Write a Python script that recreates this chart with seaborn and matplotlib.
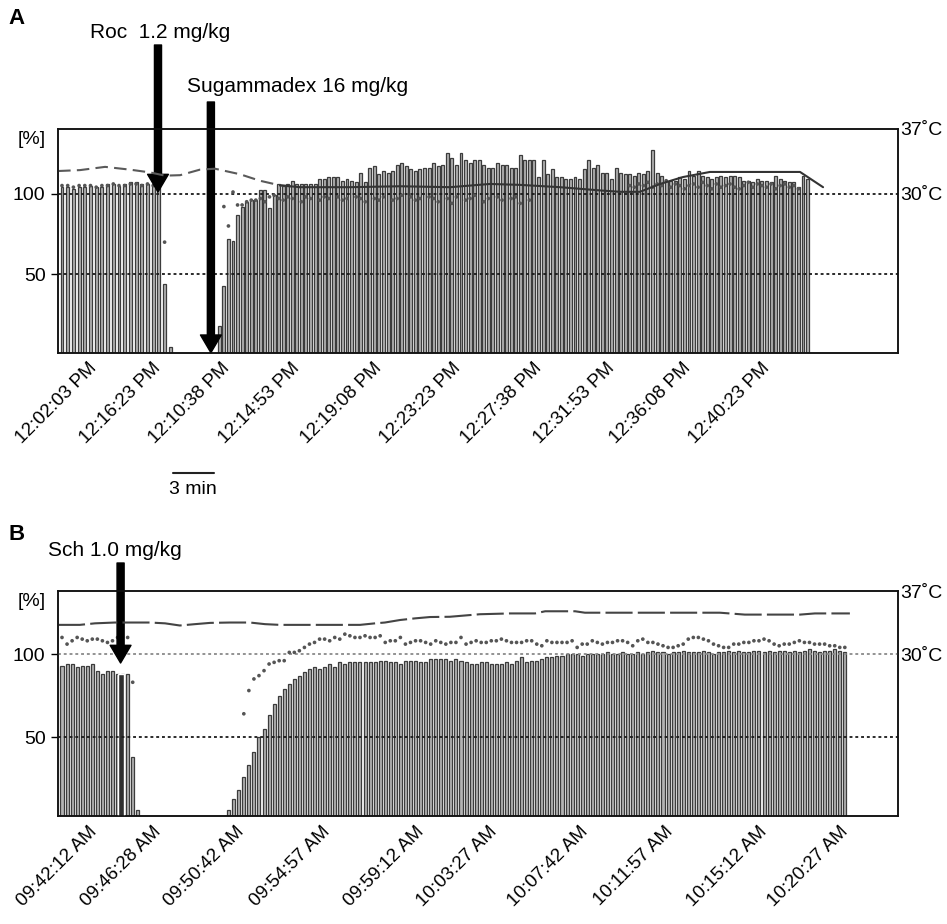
import numpy as np
import pandas as pd
import matplotlib
matplotlib.use("Agg")
import matplotlib.pyplot as plt
from matplotlib.lines import Line2D
import seaborn as sns

sns.set_theme(style="white")
plt.rcParams["font.family"] = ["Liberation Sans", "DejaVu Sans"]
plt.rcParams["text.color"] = "black"
plt.rcParams["axes.labelcolor"] = "black"
plt.rcParams["xtick.color"] = "black"
plt.rcParams["ytick.color"] = "black"
NARROW = ["Liberation Sans Narrow", "Liberation Sans", "DejaVu Sans"]
nan = np.nan

# ---------------- Panel A data (rocuronium / sugammadex) ----------------
A_pre_interval_s = 25
A_rec_start_s = 690
A_rec_interval_s = 20
tofA_pre = [104, 104, 103, 104, 104, 105, 104, 104, 106, 106, 105, 106, 107, 107,
            106, 106, 106, 105, 44, 5]
tofA_rec = [18, 43, 72, 71, 87, 92,
            95, 96, 96, 102, 102, 91, 99, 106, 105, 106,
            108, 106, 106, 106, 106, 106, 109, 109, 110, 110,
            110, 108, 109, 108, 107, 113, 107, 116, 117, 112,
            114, 113, 114, 118, 119, 117, 115, 114, 115, 116,
            116, 119, 117, 118, 125, 122, 118, 125, 121, 119, 121,
            121, 118, 116, 116, 119, 118, 118, 116, 116, 124,
            121, 121, 121, 110, 121, 112, 115, 110, 110, 109,
            109, 110, 109, 115, 121, 116, 118, 113, 113, 109,
            116, 113, 112, 112, 111,
            113, 112, 114, 127, 113, 111, 108, 108, 108, 110,
            109, 114, 111, 114, 111, 110, 109, 110, 111, 110,
            111, 111, 110, 108, 108, 107, 109, 108, 108, 107,
            111, 109, 108, 107, 107, 104, 111, 109]
ratioA_pre = [105, 105, 104, 105, 105, 105, 104, 105, 105, 106, 105, 105, 106, 106,
              105, 106, 105, 105, 70, nan]
ratioA_rec = [nan, 92, 80, 101, 93, 93, 95, 96, 96, 97,
              95, 98, 99, 97, 96, 98, 97, nan, 95, 98,
              97, nan, 96, 98, 97, nan, 98, 96, 97, nan,
              98, 97, 95, nan, 97, 96, 98, nan, 96, 97,
              99, nan, 98, 96, 97, nan, 98, 97, 95, nan,
              97, 94, 98, nan, 96, 97, 99, nan, 95, 97,
              nan, 98, 96, nan, 97, 98, 94, nan, 96, nan,
              nan, nan, nan, nan, nan, nan, nan, nan, nan, nan,
              nan, nan, nan, nan, nan, nan, nan, nan, nan, nan,
              105, 104, 106, 105, 107, 104, 106, 105, 108, 104,
              106, 105, 103, 105, 106, 104, 107, 105, 103, 106,
              104, 105, 106, 104, 103, 105, 107, 104, 106, 105,
              104, 106, 103, 105, 106, 104, 105, 103, nan, nan]
tempA_t = [-17, 79, 189, 298, 386, 452, 518, 605, 671, 781, 868, 956, 1044, 1263,
           1482, 1702, 1877, 2009, 2184, 2360, 2447, 2535, 2623, 2724, 2842, 3061,
           3237, 3338]
tempA_c = [32.45, 32.55, 32.9, 32.6, 32.3, 31.95, 32.0, 32.6, 32.7, 32.1, 31.4, 30.9,
           30.7, 30.7, 30.8, 30.7, 31.05, 30.95, 30.7, 30.35, 30.2, 30.2, 31.05, 31.8,
           32.35, 32.35, 32.35, 30.7]
ticksA_t = [167, 447, 750, 1057, 1417, 1763, 2118, 2439, 2772, 3118]
ticksA_lab = ["12:02:03 PM", "12:16:23 PM", "12:10:38 PM", "12:14:53 PM", "12:19:08 PM",
              "12:23:23 PM", "12:27:38 PM", "12:31:53 PM", "12:36:08 PM", "12:40:23 PM"]
roc_t, roc_tip = 421, 101
sug_t = 653

# ---------------- Panel B data (succinylcholine) ----------------
B_interval_s = 15
tofB = ([93, 94, 94, 92, 93, 93, 94, 90, 88, 90, 90, 88, 88, 88, 38, 6]
        + [0] * 17
        + [6, 12.5, 18, 26, 33, 41, 50, 55, 63, 70, 75, 79, 82, 85, 87, 89, 91, 92,
           91, 92, 94, 92, 95, 94, 95, 95, 95, 95, 95, 95, 96, 96, 95, 95, 94, 96,
           96, 96, 95, 95, 97, 97]
        + [97, 97, 96, 97, 96, 95, 94, 94, 95, 95, 94, 94, 94, 95, 94, 96, 98, 95, 96]
        + [96, 97, 98, 98, 99, 99, 100, 100, 100, 99, 100, 100]
        + [100, 100, 101, 100, 100, 101, 100, 100, 101, 100, 101, 102, 101, 101, 100,
           101, 101, 102, 101, 101]
        + [101, 102, 101, 100, 101, 101, 102, 101, 102, 101, 101, 102, 102, 101, 102,
           101, 102, 102, 101, 102, 101, 102, 103, 102, 101, 102, 102, 103, 102, 101])
ratioB = ([110, 106, 108, 110, 109, 108, 109, 109, 108, 107, 108, 110, nan, 110, 83, nan]
          + [nan] * 20
          + [64, 78, 85, 87, 90, 94, 95, 96, 96, 101, 101, 102, 104, 106, 107, 109, 109,
             108, 110, 109, 112, 111, 110, 110, 111, 110, 110, 111, 107, 108, 108, 110,
             106, 107, 108, 108, 107, 106, 108, 107, 106, 107, 107, 110, 106, 107, 108]
          + [107, 107, 108, 108, 109, 108, 107, 107,
             107, 108, 108, 106, 105, 108, 107, 107, 107, 107,
             108, 104, 106, 106, 108, 107, 106, 107, 107, 108,
             108, 107, 105, 108, 109, 107, 107, 106, 105, 104,
             104, 105, 106, 109, 110, 110, 109, 108, 106, 105,
             104, 104, 106, 106, 107, 107, 108, 108, 109, 108,
             106, 105, 106, 106, 107, 108, 107, 107, 106, 106,
             106, 105, 105, 104, 104])
tempB_t = [-12, 53, 98, 157, 261, 306, 350, 395, 440, 499, 558, 603, 647, 707, 766, 885,
           930, 959, 1004, 1048, 1093, 1152, 1241, 1331, 1405, 1435, 1524, 1553, 1954,
           2028, 2192, 2236, 2340]
tempB_c = [33.24, 33.24, 33.41, 33.5, 33.5, 33.41, 33.17, 33.32, 33.46, 33.5, 33.5,
           33.32, 33.24, 33.24, 33.24, 33.24, 33.41, 33.5, 33.78, 33.96, 34.11, 34.14,
           34.42, 34.51, 34.51, 34.75, 34.75, 34.59, 34.59, 34.38, 34.38, 34.51, 34.51]
ticksB_t = [113, 303, 552, 805, 1084, 1301, 1571, 1824, 2103, 2346]
ticksB_lab = ["09:42:12 AM", "09:46:28 AM", "09:50:42 AM", "09:54:57 AM", "09:59:12 AM",
              "10:03:27 AM", "10:07:42 AM", "10:11:57 AM", "10:15:12 AM", "10:20:27 AM"]
sch_t, sch_tip = 174, 94.6
sch_bar_h = 88

# ---------------- derived sample times ----------------
tA_pre = np.arange(len(tofA_pre)) * A_pre_interval_s
tA_rec = A_rec_start_s + np.arange(len(tofA_rec)) * A_rec_interval_s
tA = np.concatenate([tA_pre, tA_rec])
vA = np.array(tofA_pre + tofA_rec, dtype=float)
rA = np.array(ratioA_pre + ratioA_rec, dtype=float)
tB = np.arange(len(tofB)) * B_interval_s
vB = np.array(tofB, dtype=float)
rB = np.array(ratioB, dtype=float)

# ---------------- figure ----------------
W, H = 947, 924
fig = plt.figure(figsize=(W / 100, H / 100), dpi=100)


def fx(px):
    return px / W


def fy(py):
    return 1 - py / H


axA = fig.add_axes([fx(58), fy(352.7), (897.7 - 58) / W, (352.7 - 129) / H])
axB = fig.add_axes([fx(58), fy(816), (897.7 - 58) / W, (816 - 591) / H])


def draw_panel(ax, t, v, r, bar_width, t_temp, c_temp, ylim, xlim, ticks_t, ticks_lab,
               c100, temp_dashes, split_t=None):
    df = pd.DataFrame({"t": t, "v": v})
    df = df[df["v"] > 0]
    sns.barplot(data=df, x="t", y="v", native_scale=True, width=bar_width,
                color="#b4b4b4", edgecolor="#3c3c3c", linewidth=0.9, saturation=1,
                errorbar=None, ax=ax, zorder=2)
    dd = pd.DataFrame({"t": t, "r": r}).dropna()
    sns.scatterplot(data=dd, x="t", y="r", ax=ax, s=7, color="#555555",
                    edgecolor="none", zorder=5)
    ax.axhline(100, color=c100, lw=1.3, ls=(0, (1.6, 1.6)), zorder=4)
    ax.axhline(50, color="#1a1a1a", lw=1.3, ls=(0, (1.6, 1.6)), zorder=4)

    axT = ax.twinx()
    ytop = ylim[1]
    t_bottom = 30 - (100 - ylim[0]) * 7.0 / (ytop - 100)
    axT.set_ylim(t_bottom, 37)
    tt = np.array(t_temp, dtype=float)
    cc = np.array(c_temp, dtype=float)
    if split_t is None:
        sns.lineplot(x=tt, y=cc, ax=axT, color="#444444", lw=1.5, sort=False,
                     estimator=None)
        axT.lines[-1].set_dashes(temp_dashes)
    else:
        m1 = tt <= split_t[1]
        m2 = tt >= split_t[0]
        sns.lineplot(x=tt[m1], y=cc[m1], ax=axT, color="#5a5a5a", lw=1.5, sort=False,
                     estimator=None)
        axT.lines[-1].set_dashes(temp_dashes)
        sns.lineplot(x=tt[m2], y=cc[m2], ax=axT, color="#333333", lw=1.5, sort=False,
                     estimator=None)
    axT.set_yticks([30, 37])
    axT.set_yticklabels(["30˚C", "37˚C"])
    axT.tick_params(axis="y", right=False, length=0, pad=2, labelsize=14,
                    labelcolor="black")
    axT.set_ylabel("")
    axT.set_xlabel("")

    ax.set_ylim(*ylim)
    ax.set_xlim(*xlim)
    ax.set_yticks([50, 100])
    ax.set_yticklabels(["50", "100"])
    ax.tick_params(axis="y", left=True, length=5, width=1, pad=4, labelsize=14,
                   color="black", labelcolor="black")
    ax.set_xticks(ticks_t)
    ax.set_xticklabels(ticks_lab, rotation=45, ha="right", fontsize=13.5)
    ax.tick_params(axis="x", bottom=False, length=0, pad=5, labelcolor="black")
    ax.set_xlabel("")
    ax.set_ylabel("")
    ax.grid(False)
    axT.grid(False)
    for a in (ax, axT):
        for s in a.spines.values():
            s.set_color("#111111")
            s.set_linewidth(1.1)
    return axT


sA = 0.228   # pixels per second, panel A
sB = 0.3367  # pixels per second, panel B
xlimA = ((58 - 62) / sA, (897.7 - 62) / sA)
xlimB = ((58 - 62) / sB, (897.7 - 62) / sB)

axTA = draw_panel(axA, tA, vA, rA, 0.65, tempA_t, tempA_c, (1.6, 140), xlimA,
                  ticksA_t, ticksA_lab, "#1a1a1a", (6, 3), split_t=(956, 1044))
axTB = draw_panel(axB, tB, vB, rB, 0.6, tempB_t, tempB_c, (2.4, 138), xlimB,
                  ticksB_t, ticksB_lab, "#8a8a8a", (13, 2.5))

# dark marker bar at the succinylcholine injection
axB.bar([sch_t], [sch_bar_h], width=18, color="#303030", zorder=3)

axA.set_xlim(*xlimA)
axB.set_xlim(*xlimB)

# [%] labels
fig.text(fx(32), fy(139), "[%]", fontsize=14, ha="center", va="center")
fig.text(fx(32), fy(601), "[%]", fontsize=14, ha="center", va="center")

# arrows
arrow_kw = dict(arrowstyle="simple,head_width=1.0,head_length=0.85,tail_width=0.34",
                mutation_scale=15, color="black", shrinkA=0, shrinkB=0)
axA.annotate("", xy=(roc_t, roc_tip), xycoords="data",
             xytext=(roc_t, (352.7 - 45) / (352.7 - 129)),
             textcoords=("data", "axes fraction"), arrowprops=arrow_kw,
             annotation_clip=False, zorder=10)
axA.annotate("", xy=(sug_t, 0.0), xycoords=("data", "axes fraction"),
             xytext=(sug_t, (352.7 - 102) / (352.7 - 129)),
             textcoords=("data", "axes fraction"), arrowprops=arrow_kw,
             annotation_clip=False, zorder=10)
axB.annotate("", xy=(sch_t, sch_tip), xycoords="data",
             xytext=(sch_t, (816 - 563) / (816 - 591)),
             textcoords=("data", "axes fraction"), arrowprops=arrow_kw,
             annotation_clip=False, zorder=10)

# annotation texts
fig.text(fx(160.5), fy(33), "Roc  1.2 mg/kg", fontsize=15, ha="center", va="center")
fig.text(fx(298), fy(86), "Sugammadex 16 mg/kg", fontsize=15, ha="center", va="center")
fig.text(fx(114.5), fy(551), "Sch 1.0 mg/kg", fontsize=15, ha="center", va="center")

# panel letters
fig.text(fx(8), fy(18), "A", fontsize=16, fontweight="bold", family=NARROW,
         ha="left", va="center")
fig.text(fx(8), fy(535), "B", fontsize=16, fontweight="bold", family=NARROW,
         ha="left", va="center")

# 3 min scale bar
fig.add_artist(Line2D([fx(173), fx(214)], [fy(473), fy(473)], color="#222222",
                      lw=1.5, transform=fig.transFigure))
fig.text(fx(193), fy(489), "3 min", fontsize=14, family=NARROW, ha="center",
         va="center")

fig.savefig("out.png", dpi=100)
